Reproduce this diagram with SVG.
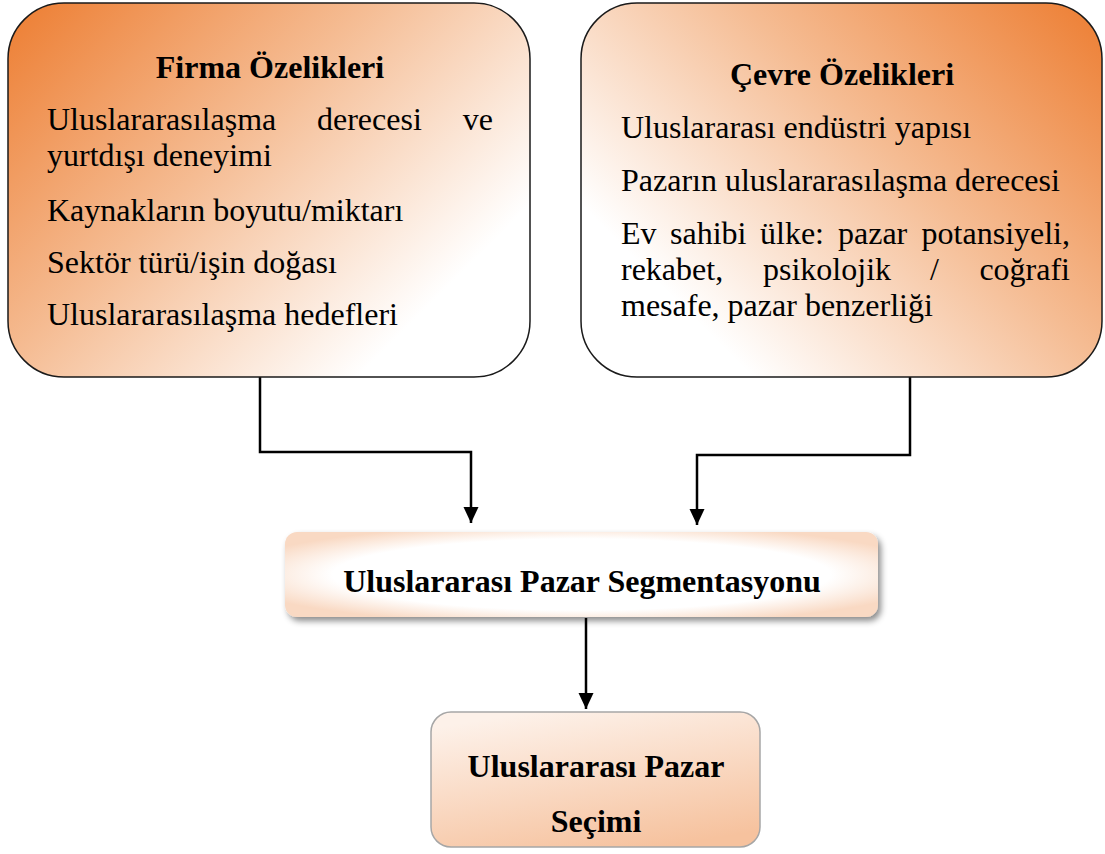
<svg xmlns="http://www.w3.org/2000/svg" width="1105" height="854" viewBox="0 0 1105 854">
<style>
text{font-family:"Liberation Serif","Times New Roman",serif;font-size:32px;fill:#000}
.b{font-weight:bold}
.c{text-anchor:middle}
.e{text-anchor:end}
.top{stroke:#1a1a1a;stroke-width:1.5}
.conn{fill:none;stroke:#000;stroke-width:2.5}
</style>
<defs>
<linearGradient id="gL" gradientUnits="userSpaceOnUse" x1="8" y1="3" x2="370" y2="365">
<stop offset="0" stop-color="#ED7D31"/>
<stop offset="0.5" stop-color="#F5BC93"/>
<stop offset="1" stop-color="#FFFFFF"/>
</linearGradient>
<linearGradient id="gR" gradientUnits="userSpaceOnUse" x1="1103" y1="3" x2="741" y2="365">
<stop offset="0" stop-color="#ED7D31"/>
<stop offset="0.5" stop-color="#F5BC93"/>
<stop offset="1" stop-color="#FFFFFF"/>
</linearGradient>
<radialGradient id="gM" cx="0.5" cy="0.5" r="0.6">
<stop offset="0" stop-color="#FFFFFF"/>
<stop offset="0.7" stop-color="#FFFFFF"/>
<stop offset="1" stop-color="#F9D9C3"/>
</radialGradient>
<linearGradient id="gB" x1="0.3" y1="0" x2="0.7" y2="1">
<stop offset="0" stop-color="#FDF1E9"/>
<stop offset="1" stop-color="#F6C29E"/>
</linearGradient>
<filter id="sh" x="-5%" y="-20%" width="112%" height="150%">
<feDropShadow dx="3" dy="4" stdDeviation="3" flood-color="#000" flood-opacity="0.45"/>
</filter>
<marker id="ah" markerUnits="userSpaceOnUse" markerWidth="16" markerHeight="16" viewBox="0 0 16 15" refX="16" refY="7.5" orient="auto">
<path d="M0,0 L16,7.5 L0,15 Z" fill="#000"/>
</marker>
</defs>

<g id="connectors">
<path class="conn" d="M260,377 V452 H471 V523" marker-end="url(#ah)"/>
<path class="conn" d="M910,377 V455 H697 V525" marker-end="url(#ah)"/>
<path class="conn" d="M586,618 V709" marker-end="url(#ah)"/>
</g>

<g id="firma">
<rect class="top" x="8" y="3" width="522" height="374" rx="56" ry="56" fill="url(#gL)"/>
<text class="b c" x="270" y="78">Firma Özelikleri</text>
<text x="47" y="130">Uluslararasılaşma</text>
<text x="317" y="130">derecesi</text>
<text class="e" x="493" y="130">ve</text>
<text x="47" y="166">yurtdışı deneyimi</text>
<text x="47" y="221">Kaynakların boyutu/miktarı</text>
<text x="47" y="273">Sektör türü/işin doğası</text>
<text x="47" y="325">Uluslararasılaşma hedefleri</text>
</g>

<g id="cevre">
<rect class="top" x="581" y="3" width="521" height="374" rx="56" ry="56" fill="url(#gR)"/>
<text class="b c" x="842" y="85">Çevre Özelikleri</text>
<text x="621" y="138">Uluslararası endüstri yapısı</text>
<text x="621" y="191">Pazarın uluslararasılaşma derecesi</text>
<text x="621" y="244">Ev</text>
<text x="670" y="244">sahibi</text>
<text x="760" y="244">ülke:</text>
<text x="838" y="244">pazar</text>
<text class="e" x="1070" y="244">potansiyeli,</text>
<text x="621" y="280">rekabet,</text>
<text x="763" y="280">psikolojik</text>
<text x="930" y="280">/</text>
<text class="e" x="1070" y="280">coğrafi</text>
<text x="621" y="316">mesafe, pazar benzerliği</text>
</g>

<g id="segmentasyon">
<rect x="285" y="532" width="593" height="85" rx="12" ry="12" fill="url(#gM)" filter="url(#sh)"/>
<text class="b c" x="582" y="592">Uluslararası Pazar Segmentasyonu</text>
</g>

<g id="secim">
<rect x="431" y="712" width="329" height="135" rx="20" ry="20" fill="url(#gB)" stroke="#A6A6A6" stroke-width="1.5"/>
<text class="b c" x="596" y="777">Uluslararası Pazar</text>
<text class="b c" x="596" y="832">Seçimi</text>
</g>
</svg>
